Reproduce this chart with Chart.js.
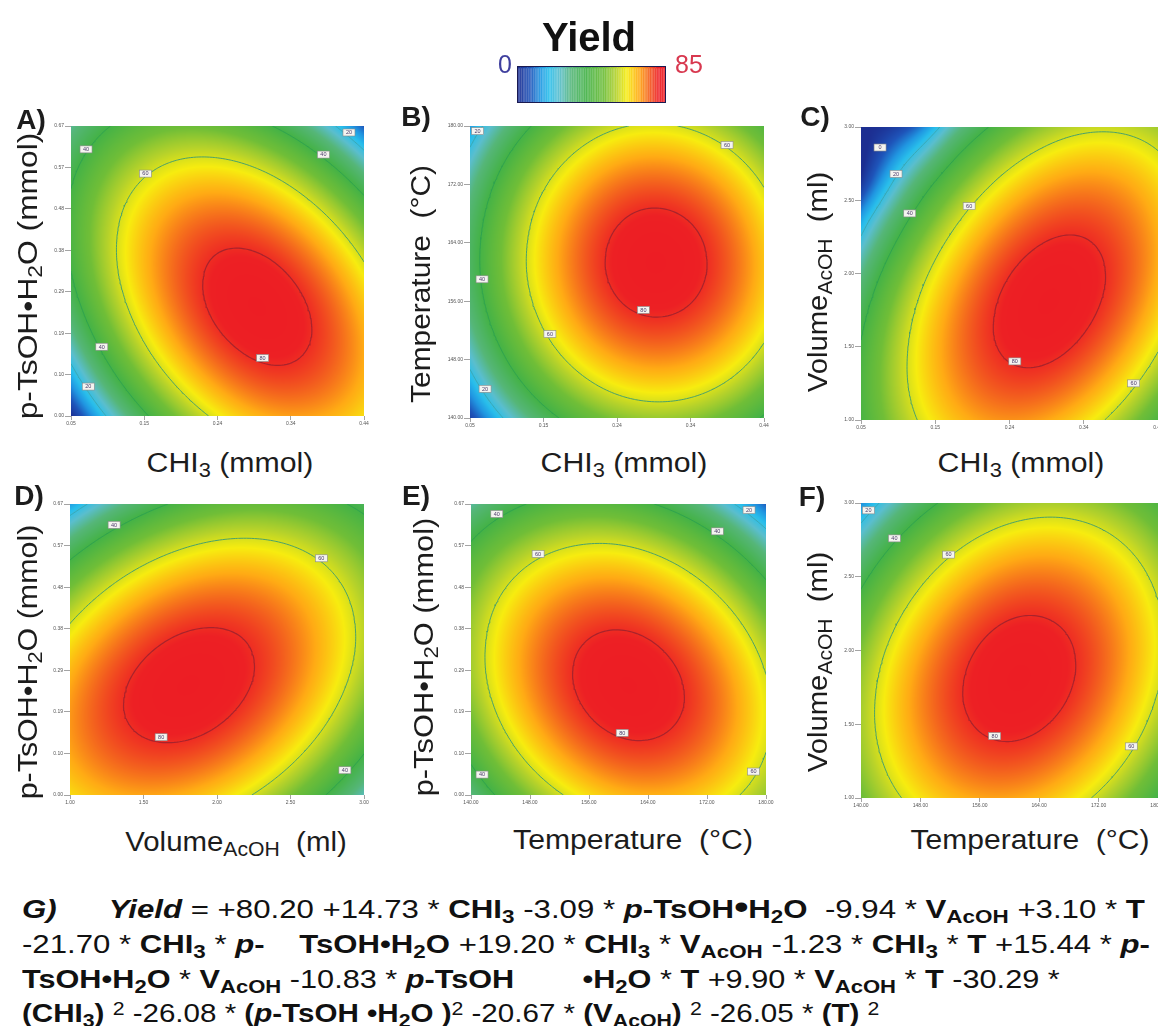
<!DOCTYPE html>
<html><head><meta charset="utf-8">
<script src="https://cdn.jsdelivr.net/npm/chart.js@4"></script>
<style>
html,body{margin:0;padding:0;background:#fff;width:1158px;height:1026px;overflow:hidden;font-family:"Liberation Sans",Arial,sans-serif;color:#1c1c1c}
#page{position:relative;width:1158px;height:1026px;overflow:hidden}
canvas{position:absolute;filter:blur(.45px)}
.t{position:absolute;white-space:nowrap;line-height:1}
sub{font-size:.72em;vertical-align:baseline;position:relative;top:.28em;line-height:0}
sup{font-size:.72em;vertical-align:baseline;position:relative;top:-.4em;line-height:0}
.eq{position:absolute;left:22px;white-space:nowrap;font-size:26px;line-height:1;transform-origin:0 0;color:#111}
</style></head><body><div id="page"></div>
<script>
// ---------- axis ticks ----------
const chi3Ticks=[0.05,0.1475,0.245,0.3425,0.44];
const tsohTicks=[0,0.0957,0.1914,0.2871,0.3829,0.4786,0.5743,0.67];
const tempTicks=[140,148,156,164,172,180];
const volTicks=[1,1.5,2,2.5,3];
// ---------- yield read at 7 x 7 positions across each panel (bottom row first) ----------
const yieldA=[[0,27,47.8,62.1,69.7,70.4,64.5],[18.7,44.1,62.5,74.3,79.5,77.8,69.5],[32.2,55.2,71.2,80.7,83.4,79.4,68.6],[40,60.6,74.2,81.2,81.6,75.1,61.9],[42.1,60.2,71.5,76.1,74,65.1,49.5],[38.3,54,62.9,65.1,60.6,49.3,31.3],[28.7,42,48.5,48.2,41.3,27.7,7.2]];
const yieldB=[[3.9,26.6,42.4,51.7,54.1,49.8,38.8],[20,42.6,58.3,67.4,69.7,65.3,54.1],[30.3,52.7,68.3,77.3,79.4,74.9,63.6],[34.8,57.1,72.5,81.4,83.4,78.7,67.3],[33.5,55.7,71,79.7,81.6,76.8,65.1],[26.5,48.6,63.7,72.3,74,69.1,57.4],[13.7,35.6,50.6,59,60.6,55.5,43.7]];
const yieldC=[[41.1,58.2,68.4,72,68.8,59,42.3],[41.9,61.1,73.5,79.2,78.2,70.4,55.9],[38.1,59.5,74,81.8,82.9,77.3,64.9],[29.7,53.2,69.8,79.8,83,79.6,69.3],[16.6,42.2,61,73.1,78.5,77.1,69],[0,26.9,47.7,62,69.5,70.3,64.3],[0,6.7,29.7,46.1,55.8,58.6,54.8]];
const yieldD=[[64.6,69.6,70,65.8,57,43.6,25.6],[70.7,77.4,79.5,77.1,70,58.3,42.1],[70.9,79.4,83.2,82.4,77.1,67.1,52.5],[65.4,75.5,81.1,82,78.4,70.1,57.3],[54,65.9,73.2,75.9,74,67.4,56.3],[37,50.6,59.5,63.9,63.7,58.9,49.5],[14,29.3,40,46.1,47.6,44.5,36.8]];
const yieldE=[[30.4,48.7,61.2,68.1,69,64.2,53.7],[44.5,61.7,73,78.6,78.3,72.3,60.5],[52.8,68.7,78.8,83.2,81.8,74.6,61.6],[55.2,69.9,78.9,82.1,79.4,71,56.8],[52,65.5,73.2,75.2,71.3,61.7,46.4],[42.9,55.2,61.7,62.6,57.5,46.7,30.1],[27.9,39,44.4,44,37.7,25.7,7.9]];
const yieldF=[[48.9,61.9,69,70.4,66,55.8,39.8],[54.3,68.3,76.6,79.1,75.7,66.7,51.8],[55.1,70.3,79.6,83.2,80.9,72.9,59.1],[51.3,67.5,77.9,82.7,81.5,74.6,62],[42.8,60.1,71.6,77.5,77.4,71.6,60.1],[29.9,48.3,60.9,67.8,68.9,64.2,53.7],[12.1,31.7,45.4,53.4,55.6,52,42.6]];
// ---------- contour labels: x, y, text ----------
const labelsA=[[0.07,0.616,'40'],[0.149,0.56,'60'],[0.386,0.604,'40'],[0.42,0.655,'20'],[0.091,0.16,'40'],[0.073,0.068,'20'],[0.305,0.134,'80']];
const labelsB=[[0.06,179.3,'20'],[0.391,177.4,'60'],[0.066,159,'40'],[0.156,151.5,'60'],[0.28,154.8,'80'],[0.07,144,'20']];
const labelsC=[[0.075,2.86,'0'],[0.096,2.68,'20'],[0.114,2.41,'40'],[0.192,2.46,'60'],[0.252,1.4,'80'],[0.408,1.25,'60']];
const labelsD=[[1.3,0.622,'40'],[2.71,0.545,'60'],[1.62,0.133,'80'],[2.87,0.057,'40']];
const labelsE=[[143.5,0.647,'40'],[149.1,0.555,'60'],[173.4,0.607,'40'],[177.7,0.656,'20'],[160.5,0.143,'80'],[141.5,0.047,'40'],[178.3,0.054,'60']];
const labelsF=[[141,2.95,'20'],[144.5,2.76,'40'],[151.8,2.65,'60'],[158,1.42,'80'],[176.4,1.35,'60']];
const contourLevels=[20,40,60,80];
const contourColors=['#3aa9b5','#2fa34f','#4aa26a','#a8232c'];
// ---------- colour ramp ----------
const rampStops=[[0,[28,46,145]],[7,[30,84,185]],[13,[32,150,225]],[18,[40,190,235]],[24,[90,190,205]],[31,[85,182,120]],[40,[68,178,70]],[50,[112,190,55]],[57,[182,210,42]],[63,[247,236,15]],[70,[255,170,20]],[76,[243,95,30]],[81,[237,32,36]],[85,[237,28,36]]];
function ramp(v){
  if(v<=rampStops[0][0])return rampStops[0][1];
  for(let i=1;i<rampStops.length;i++){
    if(v<=rampStops[i][0]){
      const a=rampStops[i-1],b=rampStops[i],t=(v-a[0])/(b[0]-a[0]);
      return [0,1,2].map(k=>a[1][k]+(b[1][k]-a[1][k])*t);
    }
  }
  return rampStops[rampStops.length-1][1];
}
// smooth shading between the read positions of a panel
function kern(p0,p1,p2,p3,t){return p1+.5*t*(p2-p0+t*(2*p0-5*p1+4*p2-p3+t*(3*(p1-p2)+p3-p0)));}
function lineAt(a,t){
  const n=a.length-1,f=Math.min(Math.max(t*n,0),n-1e-9),i=Math.floor(f),r=f-i;
  const g=k=>k<0?3*a[0]-3*a[1]+a[2]:k>n?3*a[n]-3*a[n-1]+a[n-2]:a[k];
  return kern(g(i-1),g(i),g(i+1),g(i+2),r);
}
function surf(grid,u,v){return lineAt(grid.map(r=>lineAt(r,u)),v);}
// plugin: shades the panel through the chart's own scales, then draws the contour tags
const heatPlugin={id:'heat',
  beforeDatasetsDraw(c){
    const p=c.config.options.panel,a=c.chartArea,X=c.scales.x,Y=c.scales.y;
    const w=Math.round(a.right-a.left),h=Math.round(a.bottom-a.top);
    const off=document.createElement('canvas');off.width=w;off.height=h;
    const o=off.getContext('2d'),im=o.createImageData(w,h);
    for(let j=0;j<h;j++)for(let i=0;i<w;i++){
      const xv=X.getValueForPixel(a.left+i+.5),yv=Y.getValueForPixel(a.top+j+.5);
      const u=(xv-X.min)/(X.max-X.min),v=(yv-Y.min)/(Y.max-Y.min);
      const col=ramp(surf(p.grid,u,v)),q=(j*w+i)*4;
      im.data[q]=col[0];im.data[q+1]=col[1];im.data[q+2]=col[2];im.data[q+3]=255;
    }
    o.putImageData(im,0,0);
    c.ctx.drawImage(off,a.left,a.top);
  },
  afterDatasetsDraw(c){
    const p=c.config.options.panel,g=c.ctx,X=c.scales.x,Y=c.scales.y;
    g.save();g.font='5.5px "Liberation Sans"';g.textAlign='center';g.textBaseline='middle';
    p.labels.forEach(l=>{
      const x=X.getPixelForValue(l[0]),y=Y.getPixelForValue(l[1]);
      g.fillStyle='#f4f4f0';g.strokeStyle='#8a8a8a';g.lineWidth=.6;
      g.fillRect(x-6,y-3.5,12,7);g.strokeRect(x-6,y-3.5,12,7);
      g.fillStyle='#4a3a6a';g.fillText(l[2],x,y+.3);
    });
    g.restore();
  }
};
function contourData(grid,level,x0,x1,y0,y1){
  const n=110,pts=[],F=[];
  for(let j=0;j<=n;j++){const r=[];for(let i=0;i<=n;i++)r.push(surf(grid,i/n,j/n));F.push(r);}
  const P=(u,v)=>({x:x0+(x1-x0)*u,y:y0+(y1-y0)*v});
  for(let j=0;j<n;j++)for(let i=0;i<n;i++){
    const a=F[j][i],b=F[j][i+1],c=F[j+1][i+1],d=F[j+1][i],e=[];
    const ed=(p,q,u1,v1,u2,v2)=>{if((p<level)!==(q<level)){const t=(level-p)/(q-p);e.push(P((u1+(u2-u1)*t)/n,(v1+(v2-v1)*t)/n));}};
    ed(a,b,i,j,i+1,j);ed(b,c,i+1,j,i+1,j+1);ed(d,c,i,j+1,i+1,j+1);ed(a,d,i,j,i,j+1);
    if(e.length>=2){pts.push(e[0],e[1],{x:e[1].x,y:null});}
  }
  return pts;
}
const page=document.getElementById('page');
const panels=[
 {box:[71,126,364,416],xT:chi3Ticks,yT:tsohTicks,grid:yieldA,labels:labelsA},
 {box:[470,126,764,418],xT:chi3Ticks,yT:tempTicks,grid:yieldB,labels:labelsB},
 {box:[861,127,1158,420],xT:chi3Ticks,yT:volTicks,grid:yieldC,labels:labelsC},
 {box:[70,504,364,795],xT:volTicks,yT:tsohTicks,grid:yieldD,labels:labelsD},
 {box:[471,504,766,795],xT:tempTicks,yT:tsohTicks,grid:yieldE,labels:labelsE},
 {box:[861,503,1158,798],xT:tempTicks,yT:volTicks,grid:yieldF,labels:labelsF}
];
panels.forEach(p=>{
  const [L,T,R,B]=p.box,cv=document.createElement('canvas');
  const padL=34,padT=8,padR=16,padB=16;
  cv.width=R-L+padL+padR;cv.height=B-T+padT+padB;
  cv.style.left=(L-padL)+'px';cv.style.top=(T-padT)+'px';
  page.appendChild(cv);
  const x0=p.xT[0],x1=p.xT[p.xT.length-1],y0=p.yT[0],y1=p.yT[p.yT.length-1];
  const cells=[];p.grid.forEach((r,j)=>r.forEach((v,i)=>cells.push({x:x0+(x1-x0)*i/6,y:y0+(y1-y0)*j/6,v})));
  const ds=[{label:'Yield',data:cells,pointRadius:0,showLine:false}];
  contourLevels.forEach((lv,k)=>ds.push({label:'Yield '+lv,data:contourData(p.grid,lv,x0,x1,y0,y1),showLine:true,spanGaps:false,pointRadius:0,borderColor:contourColors[k],borderWidth:lv===80?1.2:1,tension:0}));
  ds.push({label:'Contour labels',data:p.labels.map(l=>({x:l[0],y:l[1]})),pointRadius:0,showLine:false});
  const axis=(vals,min,max,len)=>({type:'linear',min,max,
    afterBuildTicks(s){s.ticks=vals.map(value=>({value}));},
    border:{display:false},
    grid:{drawOnChartArea:false,drawTicks:true,tickLength:len,color:'#8d8d8d',lineWidth:.8},
    ticks:{autoSkip:false,maxRotation:0,font:{size:5,family:'Liberation Sans'},color:'#555',padding:1,callback:v=>v.toFixed(2)}});
  const xa=axis(p.xT,x0,x1,4),ya=axis(p.yT,y0,y1,6);
  xa.afterFit=s=>{s.height=padB;};ya.afterFit=s=>{s.width=padL;};
  new Chart(cv,{type:'scatter',data:{datasets:ds},plugins:[heatPlugin],options:{panel:p,responsive:false,animation:false,events:[],
    layout:{padding:{top:padT,right:padR,left:0,bottom:0}},
    plugins:{legend:{display:false},tooltip:{enabled:false}},scales:{x:xa,y:ya}}});
});
// ---------- colour bar ----------
const barValues=[];for(let i=0;i<=85;i++)barValues.push(i);
const bar=document.createElement('canvas');bar.width=147;bar.height=35;bar.style.cssText='left:518px;top:67px;outline:1px solid #1a1a50;filter:none';page.appendChild(bar);
new Chart(bar,{type:'bar',data:{labels:barValues,datasets:[{label:'Yield',data:barValues.map(()=>1),backgroundColor:barValues.map(v=>'rgb('+ramp(v).map(Math.round).join(',')+')'),borderColor:barValues.map(v=>'rgb('+ramp(v).map(Math.round).join(',')+')'),borderWidth:1,barPercentage:1,categoryPercentage:1}]},
 options:{responsive:false,animation:false,events:[],plugins:{legend:{display:false},tooltip:{enabled:false}},scales:{x:{display:false,offset:false},y:{display:false,min:0,max:1}}}});
// ---------- text ----------
function addT(html,cx,cy,opts){
  const e=document.createElement('div');e.className='t';e.innerHTML=html;
  e.style.fontSize=(opts.size||27)+'px';if(opts.weight)e.style.fontWeight=opts.weight;if(opts.color)e.style.color=opts.color;
  page.appendChild(e);
  const sx=opts.len?opts.len/e.offsetWidth:1;
  e.style.left=cx+'px';e.style.top=cy+'px';
  e.style.transform='translate(-50%,-50%)'+(opts.rot?' rotate(-90deg)':'')+' scaleX('+sx+')';
}
const CHI='CHI<sub>3</sub> (mmol)',TS='p-TsOH•H<sub>2</sub>O (mmol)',TE='Temperature &nbsp;(°C)',VO='Volume<sub>AcOH</sub> &nbsp;(ml)';
[[CHI,229.5,463,167],[CHI,624,463,167],[CHI,1021,463,167],[VO,236,842,221],[TE,633,840,240],[TE,1030,840,239]].forEach(a=>addT(a[0],a[1],a[2],{len:a[3]}));
[[TS,28,276,287],[TE,421,284,238],[VO,818,282,220],[TS,28,662,275],[TS,424,657,279],[VO,818,662,220]].forEach(a=>addT(a[0],a[1],a[2],{len:a[3],rot:true}));
[['A)',31,120],['B)',416,117],['C)',815,117],['D)',29,496],['E)',416,496],['F)',812,497]].forEach(a=>addT(a[0],a[1],a[2],{size:28,weight:'bold'}));
addT('Yield',589,37,{size:40,weight:'bold',color:'#111'});
addT('0',505,64,{size:25,color:'#3f3f9e'});
addT('85',689,64,{size:25,color:'#d8384f'});
const eqLines=[
 ['<b><i>G)</i></b> &nbsp; &nbsp; &nbsp;<b><i>Yield</i></b> = +80.20 +14.73 * <b>CHI<sub>3</sub></b> -3.09 * <b><i>p</i>-TsOH<span style="font-size:1.3em;line-height:0">•</span>H<sub>2</sub>O</b> &nbsp;-9.94 * <b>V<sub>AcOH</sub></b> +3.10 * <b>T</b>',896,1123],
 ['-21.70 * <b>CHI<sub>3</sub></b> * <b><i>p</i>-</b> &nbsp; &nbsp;<b>TsOH•H<sub>2</sub>O</b> +19.20 * <b>CHI<sub>3</sub></b> * <b>V<sub>AcOH</sub></b> -1.23 * <b>CHI<sub>3</sub></b> * <b>T</b> +15.44 * <b><i>p</i>-</b>',931,1128],
 ['<b>TsOH•H<sub>2</sub>O</b> * <b>V<sub>AcOH</sub></b> -10.83 * <b><i>p</i>-TsOH</b> &nbsp; &nbsp; &nbsp; &nbsp;<b>•H<sub>2</sub>O</b> * <b>T</b> +9.90 * <b>V<sub>AcOH</sub></b> * <b>T</b> -30.29 *',966,1038],
 ['<b>(CHI<sub>3</sub>)</b> <sup>2</sup> -26.08 * <b>(<i>p</i>-TsOH •H<sub>2</sub>O )</b><sup>2</sup> -20.67 * <b>(V<sub>AcOH</sub>)</b> <sup>2</sup> -26.05 * <b>(T)</b> <sup>2</sup>',1000,858]
];
eqLines.forEach(l=>{
  const e=document.createElement('div');e.className='eq';e.innerHTML=l[0];e.style.top=l[1]+'px';page.appendChild(e);
  e.style.transform='scaleX('+(l[2]/e.offsetWidth)+')';
});
</script></body></html>
